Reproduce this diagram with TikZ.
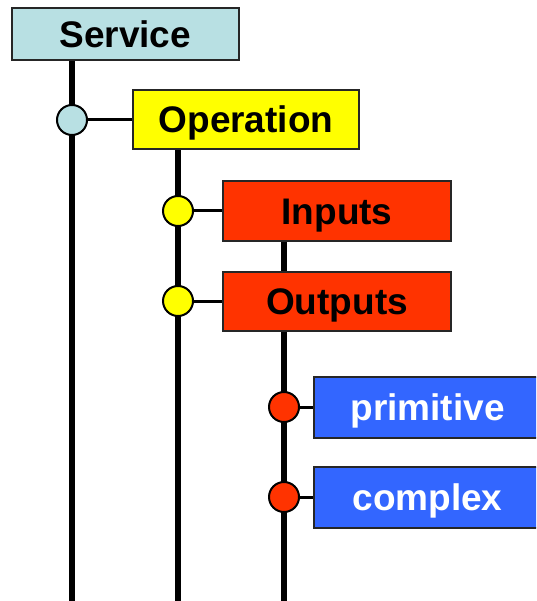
\documentclass[tikz,border=0pt]{standalone}
\usepackage{fontspec}
\setmainfont{Liberation Sans}
\definecolor{svcfill}{HTML}{B8E0E3}
\definecolor{opfill}{HTML}{FFFF00}
\definecolor{iofill}{HTML}{FF3300}
\definecolor{typefill}{HTML}{3366FF}
\begin{document}
\begin{tikzpicture}[x=1pt,y=-1pt,
  box/.style={draw=black!85, line width=2pt, inner sep=0pt, rectangle,
    font=\fontsize{37}{42}\selectfont\bfseries, text height=26.5pt, text depth=0pt},
  dot/.style={draw=black, line width=2pt, circle, inner sep=0pt, minimum size=30pt},
  trunk/.style={line width=5.5pt},
  branch/.style={line width=3pt}]
\useasboundingbox (0,0) rectangle (536,601);
\clip (0,0) rectangle (536,601);

% bottom ends of the three trunks
\coordinate (t1) at (72,601);
\coordinate (t2) at (178,601);
\coordinate (t3) at (284,601);

% trunks drawn first so the boxes sit on top
\draw[trunk] (72,60) coordinate (s1) -- (t1);
\draw[trunk] (178,149) coordinate (s2) -- (t2);
\draw[trunk] (284,241) coordinate (s3) -- (t3);

% boxes
\node[box, fill=svcfill, minimum width=227.5pt, minimum height=52pt] (service) at (125.25,34) {Service};
\node[box, fill=opfill, minimum width=226pt, minimum height=59pt] (operation) at (246,119.5) {Operation};
\node[box, fill=iofill, minimum width=228pt, minimum height=60pt] (inputs) at (337,211) {Inputs};
\node[box, fill=iofill, minimum width=228pt, minimum height=59pt] (outputs) at (337,301.5) {Outputs};
\node[box, fill=typefill, text=white, minimum width=227pt, minimum height=61pt] (primitive) at (427.5,407.5) {primitive};
\node[box, fill=typefill, text=white, minimum width=227pt, minimum height=61pt] (complex) at (427.5,497.5) {complex};

% junction dots
\node[dot, fill=svcfill] (c1) at (72,120) {};
\node[dot, fill=opfill] (c2) at (178,211) {};
\node[dot, fill=opfill] (c3) at (178,301) {};
\node[dot, fill=iofill] (c4) at (284,407) {};
\node[dot, fill=iofill] (c5) at (284,497) {};

% branches from dots to boxes
\draw[branch] (c1.east) -- (c1.east -| operation.west);
\draw[branch] (c2.east) -- (c2.east -| inputs.west);
\draw[branch] (c3.east) -- (c3.east -| outputs.west);
\draw[branch] (c4.east) -- (c4.east -| primitive.west);
\draw[branch] (c5.east) -- (c5.east -| complex.west);
\end{tikzpicture}
\end{document}
